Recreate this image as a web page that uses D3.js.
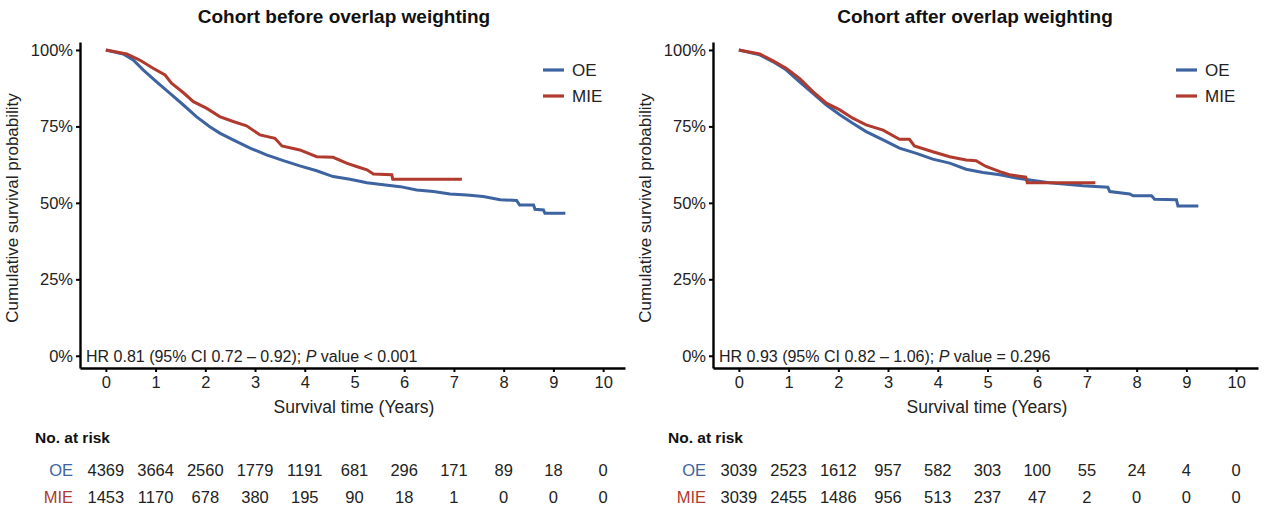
<!DOCTYPE html>
<html>
<head>
<meta charset="utf-8">
<script src="https://cdn.jsdelivr.net/npm/d3@7"></script>
<style>
  body { margin: 0; background: #fff; }
  svg { font-family: "Liberation Sans", Arial, sans-serif; }
</style>
</head>
<body>
<div id="chart"></div>
<script>
// survival curves: [years, probability]
var before_oe = [[0,1],[0.35,0.987],[0.55,0.967],[0.75,0.935],[1.02,0.896],[1.29,0.858],[1.56,0.82],[1.82,0.782],
  [2.09,0.749],[2.29,0.728],[2.56,0.706],[2.9,0.679],[3.23,0.657],[3.57,0.638],[3.9,0.621],[4.24,0.605],
  [4.57,0.586],[4.91,0.577],[5.25,0.566],[5.58,0.559],[5.92,0.553],[6.25,0.542],[6.59,0.537],[6.92,0.529],
  [7.26,0.526],[7.59,0.521],[7.93,0.51],[8.26,0.508],[8.32,0.493],[8.6,0.493],[8.63,0.479],[8.8,0.477],
  [8.83,0.466],[9.24,0.466]];
var before_mie = [[0,1],[0.42,0.987],[0.68,0.967],[0.95,0.94],[1.19,0.918],[1.32,0.891],[1.56,0.86],[1.76,0.831],
  [2.03,0.809],[2.29,0.782],[2.56,0.766],[2.83,0.752],[3.1,0.722],[3.4,0.711],[3.54,0.686],[3.9,0.673],
  [4.24,0.651],[4.57,0.649],[4.84,0.63],[5.04,0.619],[5.25,0.608],[5.38,0.594],[5.75,0.592],[5.77,0.577],
  [7.16,0.577]];
var after_oe = [[0,1],[0.42,0.984],[0.68,0.962],[0.95,0.935],[1.22,0.896],[1.49,0.858],[1.76,0.82],[2.03,0.788],
  [2.29,0.76],[2.56,0.733],[2.9,0.706],[3.23,0.679],[3.57,0.662],[3.9,0.643],[4.24,0.63],[4.57,0.61],
  [4.91,0.599],[5.25,0.592],[5.58,0.581],[5.92,0.573],[6.25,0.566],[6.59,0.561],[6.92,0.556],[7.42,0.551],
  [7.46,0.537],[7.86,0.529],[7.93,0.523],[8.3,0.523],[8.36,0.512],[8.8,0.51],[8.83,0.49],[9.24,0.49]];
var after_mie = [[0,1],[0.42,0.987],[0.68,0.965],[0.95,0.94],[1.22,0.907],[1.49,0.864],[1.76,0.826],[2.03,0.804],
  [2.29,0.777],[2.56,0.755],[2.9,0.738],[3.23,0.708],[3.43,0.708],[3.53,0.686],[3.9,0.667],[4.24,0.651],
  [4.57,0.64],[4.77,0.638],[4.97,0.619],[5.25,0.602],[5.44,0.592],[5.77,0.584],[5.8,0.566],[7.17,0.566]];

var years = [0,1,2,3,4,5,6,7,8,9,10];
var yTicks = [0,0.25,0.5,0.75,1];
var groups = ["OE","MIE"];
var risk_before_oe = [4369,3664,2560,1779,1191,681,296,171,89,18,0];
var risk_before_mie = [1453,1170,678,380,195,90,18,1,0,0,0];
var risk_after_oe = [3039,2523,1612,957,582,303,100,55,24,4,0];
var risk_after_mie = [3039,2455,1486,956,513,237,47,2,0,0,0];

var colors = {OE: "#3d64a0", MIE: "#b03a2e"};

var svg = d3.select("#chart").append("svg")
  .attr("width", 1269)
  .attr("height", 514);

var panels = [
  {left: 80, title: "Cohort before overlap weighting", titleX: 344,
   curves: {OE: before_oe, MIE: before_mie}, risk: {OE: risk_before_oe, MIE: risk_before_mie},
   hr: "HR 0.81 (95% CI 0.72 \u2013 0.92); ", pval: " value < 0.001"},
  {left: 713, title: "Cohort after overlap weighting", titleX: 975,
   curves: {OE: after_oe, MIE: after_mie}, risk: {OE: risk_after_oe, MIE: risk_after_mie},
   hr: "HR 0.93 (95% CI 0.82 \u2013 1.06); ", pval: " value = 0.296"}
];

panels.forEach(function (p) {
  var g = svg.append("g");
  var x = d3.scaleLinear().domain([-0.52, 10.44]).range([p.left, p.left + 545]);
  var y = d3.scaleLinear().domain([-0.04, 1.026]).range([368, 42]);

  g.append("text")
    .attr("x", p.titleX).attr("y", 23)
    .attr("text-anchor", "middle")
    .attr("fill", "#111")
    .style("font-size", "19px").style("font-weight", "bold")
    .text(p.title);

  var xAxis = g.append("g")
    .attr("transform", "translate(0,368)")
    .call(d3.axisBottom(x).tickValues(years).tickSize(4).tickSizeOuter(0).tickFormat(d3.format("d")));
  var yAxis = g.append("g")
    .attr("transform", "translate(" + p.left + ",0)")
    .call(d3.axisLeft(y).tickValues(yTicks).tickSize(4).tickSizeOuter(0).tickFormat(d3.format(".0%")));
  [xAxis, yAxis].forEach(function (a) {
    a.select(".domain").attr("stroke", "#000").attr("stroke-width", 2.4);
    a.selectAll(".tick line").attr("stroke", "#000").attr("stroke-width", 2);
    a.selectAll(".tick text").attr("fill", "#222").style("font-size", "16.5px");
  });
  xAxis.selectAll(".tick text").attr("dy", "0.8em");

  g.append("text")
    .attr("transform", "translate(" + (p.left - 62) + ",208) rotate(-90)")
    .attr("text-anchor", "middle")
    .attr("fill", "#222")
    .style("font-size", "17px")
    .text("Cumulative survival probability");

  g.append("text")
    .attr("x", p.left + 274).attr("y", 413)
    .attr("text-anchor", "middle")
    .attr("fill", "#222")
    .style("font-size", "17.5px")
    .text("Survival time (Years)");

  var line = d3.line()
    .x(function (d) { return x(d[0]); })
    .y(function (d) { return y(d[1]); });

  groups.forEach(function (k, i) {
    g.append("path")
      .datum(p.curves[k])
      .attr("fill", "none")
      .attr("stroke", colors[k])
      .attr("stroke-width", 3)
      .attr("d", line);

    // legend
    g.append("line")
      .attr("x1", p.left + 463).attr("x2", p.left + 484)
      .attr("y1", 70 + i * 26).attr("y2", 70 + i * 26)
      .attr("stroke", colors[k]).attr("stroke-width", 3.2);
    g.append("text")
      .attr("x", p.left + 492).attr("y", 70 + i * 26)
      .attr("dy", "0.35em")
      .attr("fill", "#222")
      .style("font-size", "17px")
      .text(k);

    // risk table row
    var ry = 470 + i * 27;
    g.append("text")
      .attr("x", p.left - 7).attr("y", ry)
      .attr("dy", "0.35em")
      .attr("text-anchor", "end")
      .attr("fill", colors[k])
      .style("font-size", "16.5px")
      .text(k);
    g.selectAll(null)
      .data(p.risk[k])
      .enter().append("text")
      .attr("x", function (d, j) { return x(years[j]); })
      .attr("y", ry)
      .attr("dy", "0.35em")
      .attr("text-anchor", "middle")
      .attr("fill", "#222")
      .style("font-size", "16.5px")
      .text(function (d) { return d; });
  });

  var hr = g.append("text")
    .attr("x", p.left + 6).attr("y", 356)
    .attr("dy", "0.35em")
    .attr("fill", "#222")
    .style("font-size", "16px");
  hr.append("tspan").text(p.hr);
  hr.append("tspan").style("font-style", "italic").text("P");
  hr.append("tspan").text(p.pval);

  g.append("text")
    .attr("x", p.left - 45).attr("y", 438)
    .attr("dy", "0.35em")
    .attr("fill", "#111")
    .style("font-size", "15.5px").style("font-weight", "bold")
    .text("No. at risk");
});
</script>
</body>
</html>
